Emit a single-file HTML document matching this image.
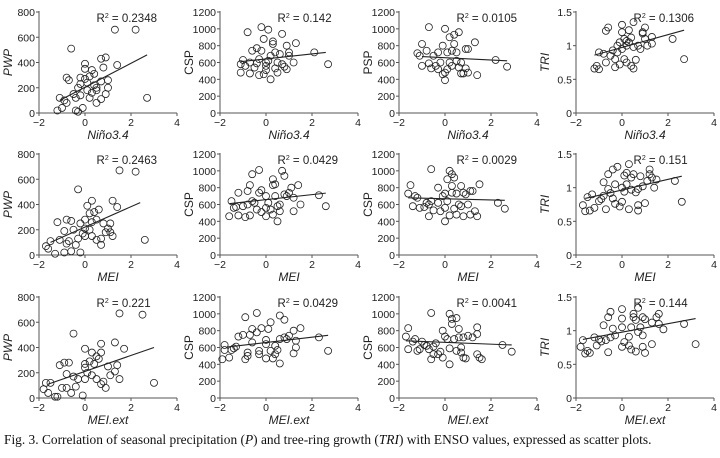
<!DOCTYPE html>
<html><head><meta charset="utf-8"><style>
body{margin:0;background:#fff;width:720px;height:458px;overflow:hidden}
svg text{font-family:"Liberation Sans",Arial,sans-serif;fill:#222}
.cap{position:absolute;left:4px;top:432px;font-family:"Liberation Serif",serif;font-size:13.4px;color:#111;white-space:nowrap}
</style></head><body>
<svg id="fig" width="720" height="458" style="position:absolute;left:0;top:0"></svg>
<div class="cap">Fig. 3. Correlation of seasonal precipitation (<i>P</i>) and tree-ring growth (<i>TRI</i>) with ENSO values, expressed as scatter plots.</div>
<script>
const xTicks=[-2,0,2,4];
const yTicksPrecip=[0,200,400,600,800];
const yTicksCSP=[0,200,400,600,800,1000,1200];
const yTicksTRI=[0,0.5,1,1.5];
const xLabels=["Niño3.4","MEI","MEI.ext"];
const yLabels=[["PWP","CSP","PSP","TRI"],["PWP","CSP","CSP","TRI"],["PWP","CSP","CSP","TRI"]];
const r2Labels=[["0.2348","0.142","0.0105","0.1306"],["0.2463","0.0429","0.0029","0.151"],["0.221","0.0429","0.0041","0.144"]];
const p1=[[-1.2,20],[-1.1,120],[-1,40],[-0.9,100],[-0.8,80],[-0.8,280],[-0.7,260],[-0.6,510],[-0.5,150],[-0.4,120],[-0.4,20],[-0.3,200],[-0.3,10],[-0.2,280],[-0.2,140],[-0.1,40],[0,270],[0,350],[0,390],[0.1,180],[0.1,240],[0.2,290],[0.2,120],[0.3,160],[0.3,340],[0.4,310],[0.4,220],[0.5,200],[0.5,80],[0.5,180],[0.7,430],[0.7,250],[0.7,110],[0.9,440],[0.9,150],[1,260],[1,200],[1.3,660],[1.4,380],[2.2,660],[2.7,120],[0.8,360],[-0.2,230]];
const p2=[[-1.1,580],[-1.1,480],[-1,630],[-0.9,560],[-0.8,960],[-0.7,470],[-0.7,600],[-0.6,740],[-0.5,540],[-0.4,770],[-0.3,450],[-0.3,640],[-0.2,1020],[-0.2,740],[-0.1,460],[-0.1,880],[0,560],[0,600],[0.1,620],[0.1,990],[0.2,400],[0.2,680],[0.3,850],[0.3,820],[0.4,530],[0.4,720],[0.5,600],[0.5,480],[0.6,700],[0.7,940],[0.7,580],[0.8,550],[0.9,520],[0.9,800],[1,720],[1,680],[1.3,830],[1.2,600],[2.1,720],[2.7,580],[-0.4,590],[0,510]];
const p3=[[-1.2,710],[-1.1,680],[-1,820],[-1,560],[-0.8,740],[-0.7,1020],[-0.7,590],[-0.6,530],[-0.5,680],[-0.4,560],[-0.3,520],[-0.3,720],[-0.2,600],[-0.1,800],[-0.1,460],[0,1000],[0,390],[0,480],[0.1,520],[0.1,720],[0.2,900],[0.2,600],[0.3,740],[0.3,560],[0.4,930],[0.4,820],[0.5,720],[0.5,620],[0.6,960],[0.6,540],[0.7,600],[0.7,470],[0.8,470],[0.9,760],[0.9,530],[1,480],[1,760],[1.3,840],[1.4,450],[2.2,630],[2.7,550]];
const p4=[[-1.2,0.66],[-1.1,0.7],[-1,0.65],[-1,0.9],[-0.8,0.88],[-0.7,1.22],[-0.7,0.75],[-0.6,1.27],[-0.5,0.85],[-0.4,0.93],[-0.3,0.68],[-0.3,0.8],[-0.2,0.9],[-0.1,1.05],[-0.1,0.72],[0,1.31],[0,1.2],[0,0.95],[0.1,0.8],[0.1,1.1],[0.2,1.0],[0.2,0.75],[0.3,1.23],[0.3,1.05],[0.4,1.12],[0.4,0.7],[0.5,1.35],[0.5,0.98],[0.5,0.66],[0.6,0.79],[0.7,1.0],[0.8,0.95],[0.9,1.2],[0.9,1.18],[1,1.27],[1,1.1],[1.1,1.0],[1.3,1.13],[1.3,1.03],[2.2,1.1],[2.7,0.8],[-0.2,1.0],[0.2,1.07]];
const p5=[[-1.7,70],[-1.6,50],[-1.5,110],[-1.3,10],[-1.2,260],[-1.1,120],[-0.9,20],[-0.9,190],[-0.8,280],[-0.8,90],[-0.7,110],[-0.6,270],[-0.6,30],[-0.5,200],[-0.4,80],[-0.3,520],[-0.3,130],[-0.2,20],[-0.2,250],[-0.1,170],[0,280],[0,210],[0,150],[0.1,390],[0.2,330],[0.2,200],[0.3,430],[0.3,260],[0.3,150],[0.4,340],[0.5,120],[0.5,280],[0.6,360],[0.7,80],[0.7,130],[0.8,250],[0.9,180],[1,210],[1.1,250],[1.1,180],[1.2,430],[1.2,150],[1.4,380],[1.5,670],[2.2,660],[2.6,120]];
const p6=[[-1.6,460],[-1.5,640],[-1.4,560],[-1.3,570],[-1.2,740],[-1.2,470],[-1,580],[-0.9,450],[-0.8,760],[-0.8,600],[-0.7,470],[-0.7,830],[-0.6,960],[-0.6,640],[-0.5,620],[-0.4,540],[-0.3,1010],[-0.3,740],[-0.2,510],[-0.2,770],[0,560],[0,700],[0,460],[0.1,620],[0.2,540],[0.3,480],[0.3,830],[0.3,900],[0.4,700],[0.4,840],[0.5,400],[0.5,580],[0.6,600],[0.6,520],[0.7,1000],[0.8,720],[0.8,940],[0.9,700],[1,740],[1.1,800],[1.2,680],[1.2,520],[1.4,830],[1.5,600],[2.3,710],[2.6,580]];
const p7=[[-1.6,730],[-1.5,830],[-1.4,580],[-1.3,700],[-1.2,680],[-1.1,560],[-0.9,570],[-0.8,620],[-0.7,600],[-0.7,460],[-0.6,1020],[-0.6,640],[-0.5,530],[-0.3,800],[-0.3,620],[-0.2,520],[-0.1,700],[0,400],[0,560],[0,730],[0.1,900],[0.1,640],[0.2,1000],[0.2,470],[0.3,960],[0.3,820],[0.3,740],[0.4,920],[0.4,550],[0.5,730],[0.5,480],[0.6,600],[0.7,820],[0.7,580],[0.8,740],[0.8,460],[0.9,720],[1,600],[1.1,760],[1.1,480],[1.2,760],[1.3,520],[1.4,460],[1.5,840],[2.3,620],[2.6,550]];
const p8=[[-1.7,0.74],[-1.6,0.65],[-1.5,0.86],[-1.4,0.66],[-1.3,0.9],[-1.2,0.7],[-1,0.8],[-0.9,0.83],[-0.8,1.08],[-0.8,0.88],[-0.7,0.68],[-0.6,1.2],[-0.6,0.98],[-0.5,0.92],[-0.4,1.27],[-0.4,0.84],[-0.3,1.05],[-0.3,0.76],[-0.2,1.31],[-0.1,0.72],[0,1.0],[0,0.79],[0.1,1.18],[0.1,0.94],[0.2,1.22],[0.2,1.05],[0.3,1.35],[0.3,0.68],[0.4,1.15],[0.4,0.97],[0.5,1.2],[0.6,0.93],[0.7,0.66],[0.7,0.74],[0.7,0.98],[0.8,1.17],[0.9,1.02],[1,0.77],[1.1,1.1],[1.2,1.27],[1.2,1.2],[1.3,1.15],[1.4,1.0],[1.5,1.12],[2.3,1.1],[2.6,0.79]];
const p9=[[-1.8,70],[-1.7,120],[-1.6,40],[-1.5,120],[-1.3,10],[-1.2,10],[-1.1,260],[-1,80],[-0.9,280],[-0.8,190],[-0.8,80],[-0.7,280],[-0.6,40],[-0.5,510],[-0.5,170],[-0.4,90],[-0.3,150],[-0.1,20],[0,270],[0,390],[0,240],[0,150],[0.1,200],[0.2,290],[0.3,360],[0.3,180],[0.4,270],[0.5,330],[0.5,150],[0.6,310],[0.7,360],[0.7,430],[0.7,110],[0.8,130],[0.9,80],[1,250],[1.1,180],[1.3,440],[1.3,210],[1.4,260],[1.5,150],[1.5,670],[1.7,390],[2.5,660],[3,120]];
const p10=[[-1.9,460],[-1.8,630],[-1.8,570],[-1.6,480],[-1.5,570],[-1.4,590],[-1.3,610],[-1.2,730],[-1,750],[-0.9,460],[-0.9,960],[-0.8,500],[-0.8,540],[-0.7,750],[-0.6,820],[-0.6,660],[-0.4,1010],[-0.4,780],[-0.3,520],[-0.3,560],[-0.2,830],[0,470],[0,640],[0,690],[0.1,820],[0.2,560],[0.2,900],[0.3,470],[0.4,620],[0.4,520],[0.5,570],[0.6,980],[0.6,410],[0.6,700],[0.8,930],[0.8,720],[0.9,700],[1,740],[1.2,800],[1.2,530],[1.3,600],[1.3,680],[1.5,830],[2.3,720],[2.7,560]];
const p11=[[-1.7,730],[-1.6,830],[-1.6,580],[-1.4,670],[-1.3,700],[-1.2,560],[-1.1,580],[-1,670],[-0.9,630],[-0.8,620],[-0.7,580],[-0.6,460],[-0.6,1010],[-0.5,520],[-0.5,610],[-0.4,650],[-0.3,520],[-0.2,550],[-0.1,800],[-0.1,480],[0,730],[0.1,700],[0.2,590],[0.2,1000],[0.2,400],[0.3,880],[0.3,940],[0.4,700],[0.5,950],[0.5,560],[0.6,820],[0.6,720],[0.7,600],[0.7,540],[0.8,480],[0.8,720],[0.9,470],[1,740],[1.2,720],[1.4,760],[1.4,840],[1.4,520],[1.5,480],[1.6,460],[2.5,630],[2.9,550]];
const p12=[[-1.8,0.76],[-1.7,0.86],[-1.6,0.66],[-1.5,0.7],[-1.4,0.67],[-1.2,0.9],[-1.1,0.78],[-1,0.87],[-0.9,0.84],[-0.8,1.08],[-0.7,0.86],[-0.6,0.68],[-0.6,1.2],[-0.5,1.28],[-0.5,0.9],[-0.4,1.03],[-0.3,0.93],[0,1.32],[0,1.18],[0,1.05],[0,0.76],[0.1,0.83],[0.3,0.78],[0.3,0.91],[0.4,1.05],[0.4,0.72],[0.5,1.25],[0.5,1.2],[0.6,1.16],[0.6,0.69],[0.7,1.34],[0.7,0.98],[0.8,1.05],[0.9,1.2],[0.9,0.93],[1,1.17],[1,0.67],[0.9,0.76],[1.3,0.8],[1.3,1.12],[1.5,1.2],[1.6,1.25],[1.6,1.1],[1.8,1.02],[2.7,1.1],[3.2,0.8]];
const trend1=[-1.1,100,2.7,460],trend2=[-1.1,610,2.6,720],trend3=[-1,670,2.7,620],trend4=[-1.2,0.86,2.7,1.23];
const trend5=[-1.5,100,2.4,415],trend6=[-1.6,610,2.6,735],trend7=[-1.6,680,2.6,650],trend8=[-1.6,0.84,2.6,1.17];
const trend9=[-1.6,110,3,400],trend10=[-1.7,605,2.7,745],trend11=[-1.7,680,2.9,630],trend12=[-1.7,0.87,3.2,1.18];

const points=[[p1,p2,p3,p4],[p5,p6,p7,p8],[p9,p10,p11,p12]];
const trends=[[trend1,trend2,trend3,trend4],[trend5,trend6,trend7,trend8],[trend9,trend10,trend11,trend12]];
const yTickSets=[[yTicksPrecip,yTicksCSP,yTicksCSP,yTicksTRI],[yTicksPrecip,yTicksCSP,yTicksCSP,yTicksTRI],[yTicksPrecip,yTicksCSP,yTicksCSP,yTicksTRI]];
const colX=[39,220,399,576], rowTop=[12,154,297], W=138, H=101;
const NS="http://www.w3.org/2000/svg", svg=document.getElementById('fig');
function mk(tag,attrs,parent){const e=document.createElementNS(NS,tag);for(const k in attrs)e.setAttribute(k,attrs[k]);parent.appendChild(e);return e;}
for(let r=0;r<3;r++)for(let c=0;c<4;c++){
  const ox=colX[c], top=rowTop[r], bot=top+H, yt=yTickSets[r][c], ymax=yt[yt.length-1];
  const sx=v=>ox+(v-xTicks[0])/(xTicks[3]-xTicks[0])*W;
  const sy=v=>bot-v/ymax*H;
  const g=mk('g',{},svg);
  
  
  const ax=mk('path',{d:`M${ox} ${top-1}V${bot}H${ox+W}`,stroke:'#555',fill:'none','stroke-width':1},g);
  
  
  xTicks.forEach(t=>{const x=sx(t);mk('line',{x1:x,x2:x,y1:bot,y2:bot+3,stroke:'#555'},g);
    const tx=mk('text',{x:x,y:bot+13,'font-size':10.5,'text-anchor':'middle'},g);tx.textContent=(t<0?'\u2212':'')+Math.abs(t);
    
    });
  yt.forEach(t=>{const y=sy(t);mk('line',{x1:ox-3,x2:ox,y1:y,y2:y,stroke:'#555'},g);
    const tx=mk('text',{x:ox-4,y:y+4,'font-size':10.5,'text-anchor':'end'},g);tx.textContent=t;
    
    });
  const xl=mk('text',{x:ox+W/2,y:bot+26,'font-size':12,'font-style':'italic','text-anchor':'middle'},g);xl.textContent=xLabels[r];
  
  
  const yl=mk('text',{x:0,y:0,'font-size':12,'font-style':(yLabels[r][c]==='CSP'||yLabels[r][c]==='PSP')&&c>0?'normal':'italic','text-anchor':'middle',transform:`translate(${ox-27},${top+H/2}) rotate(-90)`},g);yl.textContent=yLabels[r][c];
  
  
  const r2=mk('text',{x:sx(0.5),y:top+10,'font-size':11.5},g);
  r2.innerHTML='R<tspan dy="-4" font-size="7">2</tspan><tspan dy="4"> = '+r2Labels[r][c]+'</tspan>';
  
  
  points[r][c].forEach(p=>{const ci=mk('circle',{cx:sx(p[0]),cy:sy(p[1]),r:3.5,fill:'none',stroke:'#222','stroke-width':0.8},g);
    
    });
  const t=trends[r][c];
  const tl=mk('line',{x1:sx(t[0]),y1:sy(t[1]),x2:sx(t[2]),y2:sy(t[3]),stroke:'#222','stroke-width':1.1},g);
  
  
}
</script>
</body></html>
